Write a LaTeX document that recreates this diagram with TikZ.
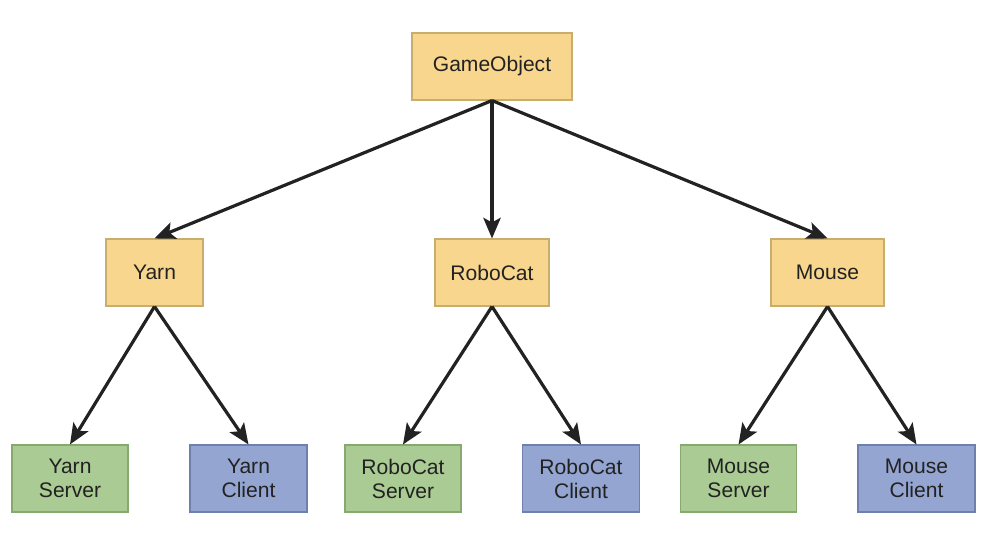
\documentclass[tikz,border=0pt]{standalone}
\usepackage{fontspec}
\setmainfont{Liberation Sans}
\usepackage{xcolor}
\usetikzlibrary{arrows.meta}
\definecolor{ink}{HTML}{222222}
\definecolor{basefill}{HTML}{F9D68E}
\definecolor{basedraw}{HTML}{C9AD6C}
\definecolor{srvfill}{HTML}{AACB93}
\definecolor{srvdraw}{HTML}{86A96F}
\definecolor{clifill}{HTML}{93A5D0}
\definecolor{clidraw}{HTML}{6E80AC}
\tikzset{
  box/.style={rectangle, line width=0.8pt, minimum height=50.25pt, inner sep=0pt,
    align=center, text=ink, font=\fontsize{15.8}{18}\selectfont},
  basebox/.style={box, fill=basefill, draw=basedraw},
  srvbox/.style={box, fill=srvfill, draw=srvdraw, minimum width=87pt},
  clibox/.style={box, fill=clifill, draw=clidraw, minimum width=87.75pt},
  link/.style={draw=ink, line width=2.4pt,
    -{Stealth[length=15.5pt, width=13pt, inset=3.5pt]}},
}
\begin{document}
\begin{tikzpicture}[x=0.75pt, y=-0.75pt]
  \useasboundingbox (0,0) rectangle (988,540);
  % root
  \node[basebox, minimum width=120pt] (game) at (492,66.5) {GameObject};
  % middle row
  \node[basebox, minimum width=72.75pt] (yarn) at (154.5,272.5) {Yarn};
  \node[basebox, minimum width=85.5pt] (robo) at (492,272.5) {RoboCat};
  \node[basebox, minimum width=84.75pt] (mouse) at (827.5,272.5) {Mouse};
  % bottom row
  \node[srvbox] (yarnS) at (70,478.5) {Yarn\\Server};
  \node[clibox] (yarnC) at (248.5,478.5) {Yarn\\Client};
  \node[srvbox] (roboS) at (403,478.5) {RoboCat\\Server};
  \node[clibox] (roboC) at (581,478.5) {RoboCat\\Client};
  \node[srvbox] (mouseS) at (738.5,478.5) {Mouse\\Server};
  \node[clibox] (mouseC) at (916.5,478.5) {Mouse\\Client};
  % arrows
  \foreach \P/\C in {game/yarn,game/robo,game/mouse,
      yarn/yarnS,yarn/yarnC,robo/roboS,robo/roboC,mouse/mouseS,mouse/mouseC}
    \draw[link] (\P.south) -- (\C.north);
\end{tikzpicture}
\end{document}
